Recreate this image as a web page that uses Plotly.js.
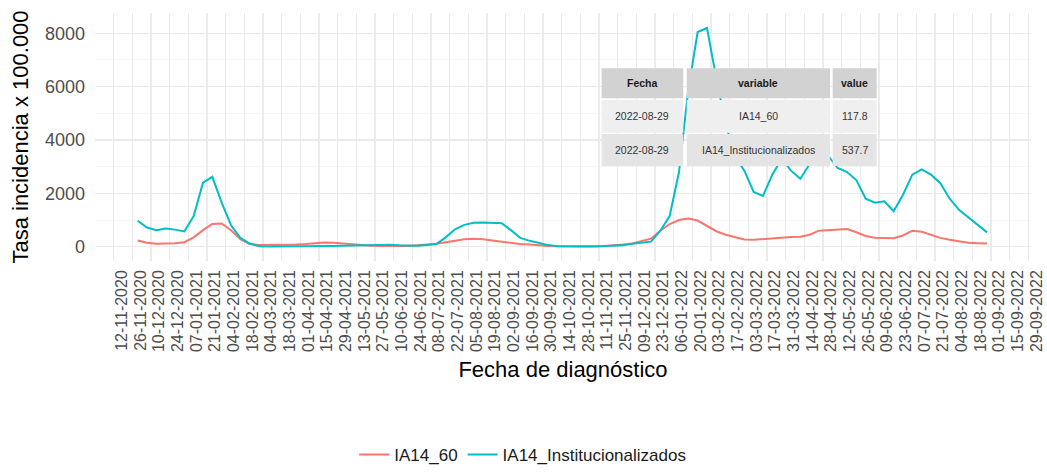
<!DOCTYPE html>
<html>
<head>
<meta charset="utf-8">
<script src="https://cdn.plot.ly/plotly-3.0.1.min.js"></script>
<style>html,body{margin:0;padding:0;background:#fff;}#chart{width:1047px;height:472px;}</style>
</head>
<body>
<div id="chart"></div>
<script>
// ---- data ----
const fechas = [
"2020-11-30","2020-12-07","2020-12-14","2020-12-21","2020-12-28",
"2021-01-04","2021-01-11","2021-01-18","2021-01-25","2021-02-01","2021-02-08","2021-02-15","2021-02-22",
"2021-03-01","2021-03-08","2021-03-15","2021-03-22","2021-03-29","2021-04-05","2021-04-12","2021-04-19","2021-04-26",
"2021-05-03","2021-05-10","2021-05-17","2021-05-24","2021-05-31","2021-06-07","2021-06-14","2021-06-21","2021-06-28",
"2021-07-05","2021-07-12","2021-07-19","2021-07-26","2021-08-02","2021-08-09","2021-08-16","2021-08-23","2021-08-30",
"2021-09-06","2021-09-13","2021-09-20","2021-09-27","2021-10-04","2021-10-11","2021-10-18","2021-10-25",
"2021-11-01","2021-11-08","2021-11-15","2021-11-22","2021-11-29","2021-12-06","2021-12-13","2021-12-20","2021-12-27",
"2022-01-03","2022-01-10","2022-01-17","2022-01-24","2022-01-31","2022-02-07","2022-02-14","2022-02-21","2022-02-28",
"2022-03-07","2022-03-14","2022-03-21","2022-03-28","2022-04-04","2022-04-11","2022-04-18","2022-04-25",
"2022-05-02","2022-05-09","2022-05-16","2022-05-23","2022-05-30","2022-06-06","2022-06-13","2022-06-20","2022-06-27",
"2022-07-04","2022-07-11","2022-07-18","2022-07-25","2022-08-01","2022-08-08","2022-08-15","2022-08-22","2022-08-29"
];
const ia14_60 = [
230,150,110,110,130,
170,350,620,850,870,620,280,100,
60,60,60,70,80,100,140,160,150,
120,100,70,40,30,25,30,30,50,
80,110,170,230,280,300,280,230,180,
140,100,80,40,25,15,10,10,
15,20,30,50,80,120,200,300,600,
850,1000,1060,980,780,580,450,350,270,
260,290,320,340,360,370,450,600,
620,650,660,540,400,340,320,315,420,
600,560,440,330,260,200,150,130,117.8
];
const ia14_inst = [
975,720,620,680,640,
570,1150,2400,2620,1650,800,330,120,
20,10,10,15,20,20,25,25,30,
40,50,60,70,75,70,50,40,40,
60,100,350,650,820,900,910,890,880,
620,330,220,130,60,15,5,5,
10,10,15,30,50,110,160,190,600,
1150,2800,5900,8050,8200,6300,4600,3400,2850,
2050,1900,2700,3300,2850,2550,3100,3500,
3400,2950,2800,2500,1800,1650,1700,1330,1950,
2700,2900,2700,2380,1800,1380,1100,800,537.7
];
const tickDates = [
"2020-11-12","2020-11-26","2020-12-10","2020-12-24","2021-01-07","2021-01-21","2021-02-04","2021-02-18",
"2021-03-04","2021-03-18","2021-04-01","2021-04-15","2021-04-29","2021-05-13","2021-05-27","2021-06-10",
"2021-06-24","2021-07-08","2021-07-22","2021-08-05","2021-08-19","2021-09-02","2021-09-16","2021-09-30",
"2021-10-14","2021-10-28","2021-11-11","2021-11-25","2021-12-09","2021-12-23","2022-01-06","2022-01-20",
"2022-02-03","2022-02-17","2022-03-03","2022-03-17","2022-03-31","2022-04-14","2022-04-28","2022-05-12",
"2022-05-26","2022-06-09","2022-06-23","2022-07-07","2022-07-21","2022-08-04","2022-08-18","2022-09-01",
"2022-09-15","2022-09-29"
];
const tickLabels = [
"12-11-2020","26-11-2020","10-12-2020","24-12-2020","07-01-2021","21-01-2021","04-02-2021","18-02-2021",
"04-03-2021","18-03-2021","01-04-2021","15-04-2021","29-04-2021","13-05-2021","27-05-2021","10-06-2021",
"24-06-2021","08-07-2021","22-07-2021","05-08-2021","19-08-2021","02-09-2021","16-09-2021","30-09-2021",
"14-10-2021","28-10-2021","11-11-2021","25-11-2021","09-12-2021","23-12-2021","06-01-2022","20-01-2022",
"03-02-2022","17-02-2022","03-03-2022","17-03-2022","31-03-2022","14-04-2022","28-04-2022","12-05-2022",
"26-05-2022","09-06-2022","23-06-2022","07-07-2022","21-07-2022","04-08-2022","18-08-2022","01-09-2022",
"15-09-2022","29-09-2022"
];
const yTicks = [0, 2000, 4000, 6000, 8000];
const tblHeader = ["Fecha", "variable", "value"];
const tblFecha = ["2022-08-29", "2022-08-29"];
const tblVariable = ["IA14_60", "IA14_Institucionalizados"];
const tblValue = ["117.8", "537.7"];

// ---- inset table (paper coordinates) ----
const FONT = "Liberation Sans, Arial, sans-serif";
const colX = [[0.5413,0.6285],[0.6322,0.7853],[0.7881,0.8351]];
const rowY = [[0.656,0.777],[0.5173,0.6492],[0.383,0.5121]];
const rowFill = ["#D2D2D2","#EFEFEF","#E4E4E4"];
const tblRows = [tblHeader, [tblFecha[0],tblVariable[0],tblValue[0]], [tblFecha[1],tblVariable[1],tblValue[1]]];
const shapes = [];
const annotations = [];
tblRows.forEach((row, r) => {
  row.forEach((txt, c) => {
    shapes.push({type:"rect", xref:"paper", yref:"paper", layer:"above",
      x0:colX[c][0], x1:colX[c][1], y0:rowY[r][0], y1:rowY[r][1],
      fillcolor:rowFill[r], line:{width:0}});
    annotations.push({xref:"paper", yref:"paper", showarrow:false,
      x:(colX[c][0]+colX[c][1])/2, y:(rowY[r][0]+rowY[r][1])/2,
      xanchor:"center", yanchor:"middle",
      text: r===0 ? "<b>"+txt+"</b>" : txt,
      font:{family:FONT, size:10.5, color: r===0 ? "#1A1A1A" : "#333333"}});
  });
});

// ---- chart ----
const traces = [
  {type:"scatter", mode:"lines", name:"IA14_60", x:fechas, y:ia14_60,
   line:{color:"#F8766D", width:2}, hoverinfo:"skip"},
  {type:"scatter", mode:"lines", name:"IA14_Institucionalizados", x:fechas, y:ia14_inst,
   line:{color:"#00BFC4", width:2}, hoverinfo:"skip"}
];
const layout = {
  width:1047, height:472,
  margin:{l:95, r:16, t:13, b:211, autoexpand:false},
  paper_bgcolor:"#FFFFFF", plot_bgcolor:"#FFFFFF",
  font:{family:FONT, color:"#000"},
  showlegend:true,
  legend:{orientation:"h", x:0.457, xanchor:"center", yref:"container", y:0.036, yanchor:"middle",
    font:{family:FONT, size:17, color:"#1A1A1A"}, itemwidth:30, traceorder:"normal"},
  xaxis:{type:"date", range:["2020-10-29","2022-10-01"], automargin:false,
    tickmode:"array", tickvals:tickDates, ticktext:tickLabels, tickangle:-90,
    tickfont:{family:FONT, size:16, color:"#4D4D4D"}, ticks:"", ticklabelshift:8, ticklabelstandoff:5,
    showgrid:true, gridcolor:"#EBEBEB", gridwidth:1.1, zeroline:false, showline:false,
    title:{text:"Fecha de diagnóstico", font:{family:FONT, size:22, color:"#000"}, standoff:10}},
  yaxis:{range:[-536, 8761], tickmode:"array", tickvals:yTicks, automargin:false,
    tickfont:{family:FONT, size:18, color:"#4D4D4D"}, ticks:"", ticklabelstandoff:9,
    showgrid:true, gridcolor:"#EBEBEB", gridwidth:1.1, zeroline:false, showline:false,
    minor:{dtick:1000, tick0:0, showgrid:true, gridcolor:"#F2F2F2", gridwidth:0.7},
    title:{text:"Tasa incidencia x 100.000", font:{family:FONT, size:22, color:"#000"}, standoff:10}},
  shapes: shapes,
  annotations: annotations,
  hovermode:false
};
Plotly.newPlot("chart", traces, layout, {staticPlot:true, displayModeBar:false});
</script>
</body>
</html>
